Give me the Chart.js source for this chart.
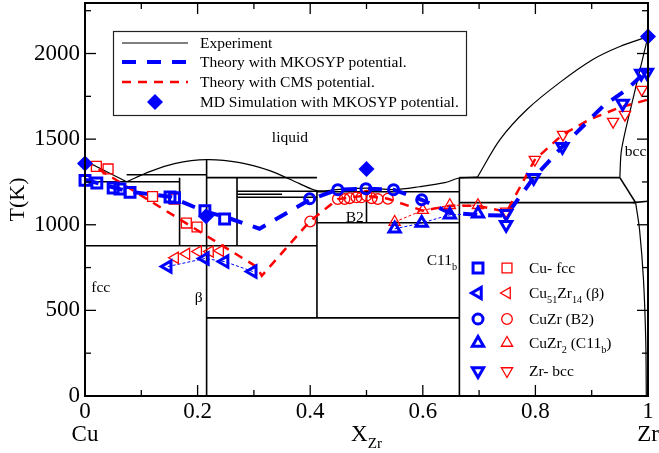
<!DOCTYPE html>
<html><head><meta charset="utf-8">
<script src="https://cdn.jsdelivr.net/npm/chart.js@4.4.1/dist/chart.umd.min.js"></script>
<style>html,body{margin:0;padding:0;background:#fff}canvas{display:block}</style>
</head><body>
<canvas id="c" width="659" height="453"></canvas>
<script>
// ---------- axis ticks ----------
const xTickValues = [0, 0.2, 0.4, 0.6, 0.8, 1];
const xTickLabels = [['0', 'Cu'], '0.2', '0.4', '0.6', '0.8', ['1', 'Zr']];
const xMinorTicks = [0.1, 0.3, 0.5, 0.7, 0.9];
const yTickValues = [0, 500, 1000, 1500, 2000];
const yTickLabels = ['0', '500', '1000', '1500', '2000'];
const yMinorTicks = [250, 750, 1250, 1750, 2250];

// ---------- experiment phase boundaries ([x, T] polylines) ----------
const expCuLiquidus = [[0, 1374], [0.074, 1251]];
const expLiquidus = [[0.074, 1251], [0.115, 1310], [0.159, 1357], [0.216, 1380], [0.275, 1363], [0.328, 1316], [0.381, 1240], [0.412, 1199], [0.452, 1207], [0.5, 1214], [0.55, 1205], [0.594, 1222], [0.639, 1246], [0.665, 1273], [0.697, 1278]];
const expZrLiquidus = [[0.697, 1278], [0.737, 1497], [0.785, 1673], [0.843, 1830], [0.902, 1965], [0.95, 2041], [1.0, 2099]];
const expBccSolidus = [[1.0, 2099], [0.973, 1731], [0.953, 1439], [0.95, 1275]];
const expHcpBcc = [[0.978, 1129], [0.985, 971], [0.992, 678], [0.996, 327], [0.997, 0]];
const expStraight = [
  [[0.95, 1275], [0.978, 1129]],
  [[0.973, 1129], [1.0, 1137]],
  [[0.665, 1275], [0.95, 1275]],
  [[0.665, 1129], [0.978, 1129]],
  [[0.665, 1275], [0.665, 0]],
  [[0.412, 1193], [0.665, 1193]],
  [[0.412, 1012], [0.665, 1012]],
  [[0.5, 1193], [0.5, 1012]],
  [[0.412, 1199], [0.412, 456]],
  [[0.216, 456], [0.665, 456]],
  [[0, 877], [0.412, 877]],
  [[0.216, 1380], [0.216, 0]],
  [[0.168, 1275], [0.168, 877]],
  [[0.27, 1275], [0.27, 877]],
  [[0.074, 1292], [0.216, 1292]],
  [[0.216, 1275], [0.412, 1275]],
  [[0, 1251], [0.168, 1251]],
  [[0.27, 1196], [0.412, 1196]],
  [[0.27, 1161], [0.412, 1161]],
  [[0.27, 1178], [0.35, 1178]]
];

// ---------- theory lines ----------
const mkX = [0, 0.079, 0.151, 0.214, 0.248, 0.31, 0.399, 0.449, 0.499, 0.548, 0.598, 0.648, 0.698, 0.748, 0.797, 0.848, 0.92, 0.962, 1.0];
const mkT = [1263, 1193, 1164, 1076, 1047, 977, 1146, 1205, 1211, 1205, 1146, 1070, 1058, 1053, 1275, 1456, 1692, 1789, 1906];
const cmsX = [0, 0.305, 0.314, 0.399, 0.449, 0.497, 0.538, 0.6, 0.648, 0.697, 0.749, 0.799, 0.848, 0.896, 0.949, 1.0];
const cmsT = [1374, 754, 702, 1019, 1150, 1170, 1152, 1082, 1111, 1111, 1076, 1380, 1526, 1614, 1684, 1731];

// ---------- phase points ----------
const fccX_MK = [0, 0.021, 0.05, 0.062, 0.08, 0.151, 0.159, 0.213, 0.248];
const fccT_MK = [1259, 1244, 1215, 1209, 1189, 1162, 1158, 1082, 1034];
const fccX_CMS = [0.0202, 0.041, 0.12, 0.159, 0.18, 0.199];
const fccT_CMS = [1341, 1326, 1165, 1150, 1010, 987];
const betaX_MK = [0.147, 0.213, 0.248, 0.298];
const betaT_MK = [756, 803, 785, 727];
const betaX_CMS = [0.16, 0.18, 0.201, 0.222, 0.24];
const betaT_CMS = [807, 830, 844, 844, 848];
const b2X_MK = [0.399, 0.449, 0.499, 0.548, 0.598];
const b2T_MK = [1152, 1205, 1211, 1205, 1146];
const b2X_CMS = [0.4, 0.449, 0.461, 0.47, 0.482, 0.491, 0.5, 0.509, 0.52, 0.538];
const b2T_CMS = [1019, 1150, 1150, 1155, 1160, 1160, 1170, 1155, 1150, 1152];
const c11X_MK = [0.55, 0.598, 0.648, 0.698];
const c11T_MK = [976, 1010, 1058, 1064];
const c11X_CMS = [0.55, 0.6, 0.648, 0.698];
const c11T_CMS = [1016, 1085, 1114, 1114];
const bccX_MK = [0.748, 0.748, 0.797, 0.848, 0.955, 0.988, 0.998];
const bccT_MK = [1064, 1000, 1275, 1456, 1708, 1883, 1889];
const bccX_CMS = [0.748, 0.799, 0.849, 0.938, 0.959, 0.989];
const bccT_CMS = [1078, 1380, 1526, 1602, 1643, 1789];
const mdX = [0, 0.215, 0.5, 1.0];
const mdT = [1357, 1050, 1326, 2100];

// ---------- text ----------
const legendTexts = ['Experiment', 'Theory with MKOSYP potential.', 'Theory with CMS potential.', 'MD Simulation with MKOSYP potential.'];
const phaseLabels = [
  {text: [['liquid']], x: 0.364, T: 1515},
  {text: [['B2']], x: 0.479, T: 1047},
  {text: [['C11'], ['b', 'sub']], x: 0.607, T: 795, left: true},
  {text: [['fcc']], x: 0.028, T: 637},
  {text: [['β']], x: 0.202, T: 580},
  {text: [['bcc']], x: 0.978, T: 1433}
];
const markerLegend = [
  [['Cu- fcc']],
  [['Cu'], ['51', 'sub'], ['Zr'], ['14', 'sub'], [' (β)']],
  [['CuZr (B2)']],
  [['CuZr'], ['2', 'sub'], [' (C11'], ['b', 'sub'], [')']],
  [['Zr- bcc']]
];

const BLUE = '#0000ff', RED = '#ff0000';
const FONT = "'Liberation Serif', 'Times New Roman', serif";

const pts = (xs, ts) => xs.map((x, i) => ({x: x, y: ts[i]}));
const pairs = arr => arr.map(p => ({x: p[0], y: p[1]}));

// marker styles
const ST = {
  fcc: {pointStyle: 'rect', rot: 0},
  beta: {pointStyle: 'triangle', rot: -90},
  b2: {pointStyle: 'circle', rot: 0},
  c11: {pointStyle: 'triangle', rot: 0},
  bcc: {pointStyle: 'triangle', rot: 180}
};
const sizeMK = {fcc: 7, beta: 6.5, b2: 5, c11: 6.5, bcc: 6.5};
const sizeCMS = {fcc: 7, beta: 6.5, b2: 5.3, c11: 6.5, bcc: 6.5};

function markerSet(data, kind, mk) {
  return {
    data: data, showLine: false,
    pointStyle: ST[kind].pointStyle, pointRotation: ST[kind].rot,
    pointRadius: mk ? sizeMK[kind] : sizeCMS[kind],
    pointBorderWidth: mk ? 3 : 1.3,
    pointBorderColor: mk ? BLUE : RED,
    pointBackgroundColor: 'rgba(0,0,0,0)',
    clip: false, order: mk ? 2 : 3
  };
}
function lineSet(data, color, width, dash, tension, order) {
  return {data: data, showLine: true, pointRadius: 0, borderColor: color, borderWidth: width,
    borderDash: dash, tension: tension, fill: false, order: order};
}

const datasets = [];
datasets.push(lineSet(pairs(expCuLiquidus), '#000', 1.2, [], 0, 20));
datasets.push(lineSet(pairs(expLiquidus), '#000', 1.2, [], 0.3, 20));
datasets.push(lineSet(pairs(expZrLiquidus), '#000', 1.2, [], 0.3, 20));
datasets.push(lineSet(pairs(expBccSolidus), '#000', 1.2, [], 0.3, 20));
datasets.push(lineSet(pairs(expHcpBcc), '#000', 1.2, [], 0.3, 20));
expStraight.forEach(s => datasets.push(lineSet(pairs(s), '#000', 1.6, [], 0, 20)));
datasets.push(lineSet(pts(mkX, mkT), BLUE, 4, [14, 11], 0, 8));
datasets.push(lineSet(pts(cmsX, cmsT), RED, 2.5, [9, 7], 0, 9));
datasets.push(lineSet(pts(betaX_MK, betaT_MK), BLUE, 1, [3, 2], 0, 10));
datasets.push(lineSet(pts(c11X_MK, c11T_MK), BLUE, 1, [3, 2], 0, 10));
datasets.push(lineSet(pts(c11X_CMS, c11T_CMS), RED, 1, [3, 2], 0, 10));
datasets.push(markerSet(pts(fccX_MK, fccT_MK), 'fcc', true));
datasets.push(markerSet(pts(fccX_CMS, fccT_CMS), 'fcc', false));
datasets.push(markerSet(pts(betaX_MK, betaT_MK), 'beta', true));
datasets.push(markerSet(pts(betaX_CMS, betaT_CMS), 'beta', false));
datasets.push(markerSet(pts(b2X_MK, b2T_MK), 'b2', true));
datasets.push(markerSet(pts(b2X_CMS, b2T_CMS), 'b2', false));
datasets.push(markerSet(pts(c11X_MK, c11T_MK), 'c11', true));
datasets.push(markerSet(pts(c11X_CMS, c11T_CMS), 'c11', false));
datasets.push(markerSet(pts(bccX_MK, bccT_MK), 'bcc', true));
datasets.push(markerSet(pts(bccX_CMS, bccT_CMS), 'bcc', false));
datasets.push({data: pts(mdX, mdT), showLine: false, pointStyle: 'rectRot', pointRadius: 8,
  pointBorderWidth: 0, pointBackgroundColor: BLUE, pointBorderColor: BLUE, clip: false, order: 1});

function drawRich(ctx, parts, x, y, size, align) {
  let total = 0;
  const pieces = parts.map(p => {
    const sub = p[1] === 'sub';
    const f = (sub ? size * 0.66 : size) + 'px ' + FONT;
    ctx.font = f;
    const w = ctx.measureText(p[0]).width;
    total += w;
    return {t: p[0], f: f, w: w, dy: sub ? size * 0.3 : 0};
  });
  let cx = align === 'center' ? x - total / 2 : x;
  ctx.textAlign = 'left';
  ctx.textBaseline = 'alphabetic';
  pieces.forEach(p => { ctx.font = p.f; ctx.fillText(p.t, cx, y + p.dy); cx += p.w; });
}

const decor = {
  id: 'decor',
  afterDraw(chart) {
    const {ctx, chartArea: a, scales} = chart;
    const xs = scales.x, ys = scales.y;
    ctx.save();
    ctx.strokeStyle = '#000';
    ctx.lineWidth = 2;
    ctx.strokeRect(a.left, a.top, a.right - a.left, a.bottom - a.top);
    ctx.lineWidth = 1.3;
    const tick = (x1, y1, x2, y2) => { ctx.beginPath(); ctx.moveTo(x1, y1); ctx.lineTo(x2, y2); ctx.stroke(); };
    xTickValues.concat(xMinorTicks).forEach(v => {
      const L = xMinorTicks.includes(v) ? 6 : 11;
      const px = xs.getPixelForValue(v);
      tick(px, a.bottom, px, a.bottom - L);
      tick(px, a.top, px, a.top + L);
    });
    yTickValues.concat(yMinorTicks).forEach(v => {
      const L = yMinorTicks.includes(v) ? 6 : 11;
      const py = ys.getPixelForValue(v);
      tick(a.left, py, a.left + L, py);
      tick(a.right, py, a.right - L, py);
    });
    ctx.fillStyle = '#000';
    drawRich(ctx, [['X'], ['Zr', 'sub']], (a.left + a.right) / 2, 441, 23, 'center');
    phaseLabels.forEach(l => {
      const px = xs.getPixelForValue(l.x), py = ys.getPixelForValue(l.T);
      drawRich(ctx, l.text, px, py + 5, 15.5, l.left ? 'left' : 'center');
    });
    // legend 1
    ctx.strokeStyle = '#222';
    ctx.lineWidth = 1.2;
    ctx.setLineDash([]);
    ctx.strokeRect(113.5, 31.5, 353, 84);
    const rows = [43, 62, 82, 102];
    const sample = (y, color, w, dash) => {
      ctx.save(); ctx.strokeStyle = color; ctx.lineWidth = w; ctx.setLineDash(dash);
      ctx.beginPath(); ctx.moveTo(122, y); ctx.lineTo(188, y); ctx.stroke(); ctx.restore();
    };
    sample(rows[0], '#000', 1.2, []);
    sample(rows[1], BLUE, 4, [14, 11]);
    sample(rows[2], RED, 2.5, [9, 7]);
    ctx.fillStyle = BLUE; ctx.strokeStyle = BLUE;
    Chart.helpers.drawPoint(ctx, {pointStyle: 'rectRot', radius: 8, borderWidth: 0, rotation: 0}, 155, rows[3]);
    ctx.fillStyle = '#000';
    legendTexts.forEach((t, i) => drawRich(ctx, [[t]], 200, rows[i] + 5, 15.5, 'left'));
    // legend 2 (markers)
    const kinds = ['fcc', 'beta', 'b2', 'c11', 'bcc'];
    const rows2 = [268, 293, 319, 343, 371];
    kinds.forEach((k, i) => {
      ctx.fillStyle = 'rgba(0,0,0,0)';
      ctx.strokeStyle = BLUE; ctx.lineWidth = 3;
      Chart.helpers.drawPoint(ctx, {pointStyle: ST[k].pointStyle, rotation: ST[k].rot, radius: sizeMK[k], borderWidth: 3}, 478, rows2[i]);
      ctx.strokeStyle = RED; ctx.lineWidth = 1.3;
      Chart.helpers.drawPoint(ctx, {pointStyle: ST[k].pointStyle, rotation: ST[k].rot, radius: sizeCMS[k], borderWidth: 1.3}, 507, rows2[i]);
      ctx.fillStyle = '#000';
      drawRich(ctx, markerLegend[i], 529, rows2[i] + 5, 15.5, 'left');
    });
    ctx.restore();
  }
};

new Chart(document.getElementById('c'), {
  type: 'scatter',
  data: {datasets: datasets},
  options: {
    responsive: false, animation: false, devicePixelRatio: 1, events: [],
    layout: {autoPadding: false, padding: {top: 3, right: 11, left: 0, bottom: 0}},
    plugins: {legend: {display: false}, tooltip: {enabled: false}},
    scales: {
      x: {
        type: 'linear', min: 0, max: 1,
        grid: {display: false, drawTicks: false, tickLength: 0}, border: {display: true, color: '#000', width: 2},
        afterBuildTicks: s => { s.ticks = xTickValues.map(v => ({value: v})); },
        afterFit: s => { s.height = 57; s.paddingLeft = 0; s.paddingRight = 0; },
        ticks: {
          autoSkip: false, maxRotation: 0, padding: 4, color: '#000',
          font: {family: FONT, size: 23, lineHeight: 1.0},
          callback: (v, i) => xTickLabels[i]
        }
      },
      y: {
        type: 'linear', min: 0, max: 2295,
        grid: {display: false, drawTicks: false, tickLength: 0}, border: {display: true, color: '#000', width: 2},
        afterBuildTicks: s => { s.ticks = yTickValues.map(v => ({value: v})); },
        afterFit: s => { s.width = 85; s.paddingTop = 0; s.paddingBottom = 0; },
        ticks: {
          autoSkip: false, padding: 5, color: '#000',
          font: {family: FONT, size: 23},
          callback: (v, i) => yTickLabels[i]
        },
        title: {display: true, text: 'T(K)', color: '#000', font: {family: FONT, size: 22}, padding: {top: 5, bottom: 0}}
      }
    }
  },
  plugins: [decor]
});
</script></body></html>
